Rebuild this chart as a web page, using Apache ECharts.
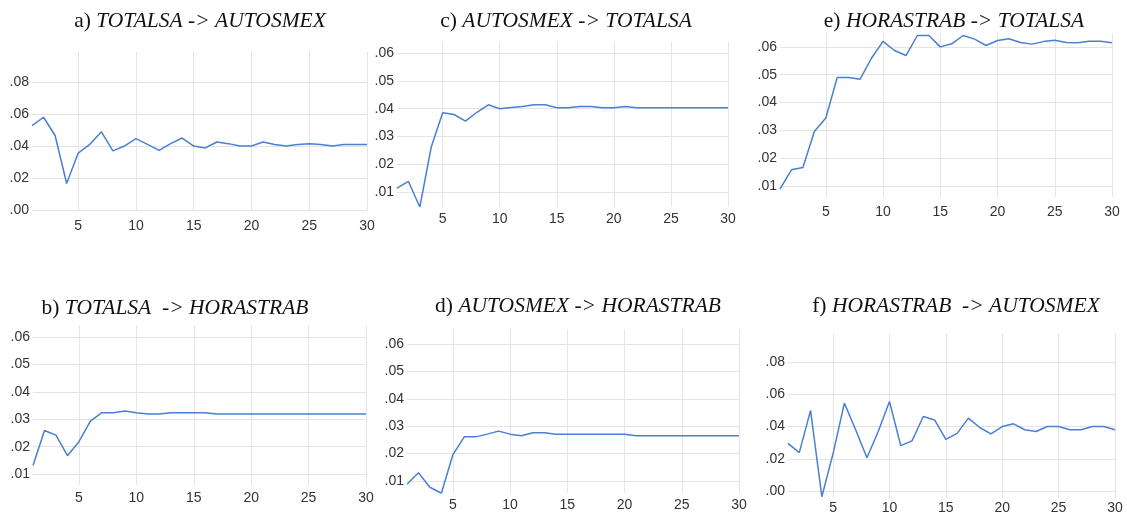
<!DOCTYPE html>
<html>
<head>
<meta charset="utf-8">
<script src="https://cdn.jsdelivr.net/npm/echarts@6/dist/echarts.min.js"></script>
<style>
  html, body { margin: 0; padding: 0; background: #fff; }
  #chart { width: 1127px; height: 517px; }
</style>
</head>
<body>
<div id="chart"></div>
<script>
// horizon (steps after the shock)
const steps = ['1','2','3','4','5','6','7','8','9','10','11','12','13','14','15',
  '16','17','18','19','20','21','22','23','24','25','26','27','28','29','30'];

// a) TOTALSA -> AUTOSMEX
const totToAuto = [0.0528, 0.058, 0.0466, 0.0166, 0.0356, 0.041, 0.049, 0.037, 0.040, 0.0446,
  0.041, 0.0373, 0.0415, 0.045, 0.040, 0.0388, 0.0425, 0.0415, 0.040, 0.040,
  0.0425, 0.041, 0.040, 0.041, 0.0415, 0.041, 0.040, 0.041, 0.041, 0.041];
// b) TOTALSA -> HORASTRAB
const totToHoras = [0.0131, 0.0259, 0.0242, 0.0167, 0.0218, 0.0293, 0.0324, 0.0324, 0.033, 0.0324,
  0.0319, 0.0319, 0.0324, 0.0324, 0.0324, 0.0324, 0.0319, 0.0319, 0.0319, 0.0319,
  0.0319, 0.0319, 0.0319, 0.0319, 0.0319, 0.0319, 0.0319, 0.0319, 0.0319, 0.0319];
// c) AUTOSMEX -> TOTALSA
const autoToTot = [0.0114, 0.0138, 0.0046, 0.0262, 0.0385, 0.0379, 0.0355, 0.0387, 0.0414, 0.040,
  0.0404, 0.0408, 0.0414, 0.0414, 0.0403, 0.0403, 0.0408, 0.0408, 0.0403, 0.0403,
  0.0408, 0.0403, 0.0403, 0.0403, 0.0403, 0.0403, 0.0403, 0.0403, 0.0403, 0.0403];
// d) AUTOSMEX -> HORASTRAB
const autoToHoras = [0.0088, 0.013, 0.0077, 0.0055, 0.0195, 0.0261, 0.0261, 0.0271, 0.0282, 0.0271,
  0.0265, 0.0276, 0.0276, 0.0271, 0.0271, 0.0271, 0.0271, 0.0271, 0.0271, 0.0271,
  0.0265, 0.0265, 0.0265, 0.0265, 0.0265, 0.0265, 0.0265, 0.0265, 0.0265, 0.0265];
// e) HORASTRAB -> TOTALSA
const horasToTot = [0.0088, 0.0158, 0.0166, 0.0296, 0.0344, 0.049, 0.049, 0.0484, 0.056, 0.062,
  0.0587, 0.0569, 0.0641, 0.0641, 0.060, 0.0611, 0.0641, 0.0628, 0.0605, 0.0623,
  0.0629, 0.0616, 0.061, 0.0619, 0.0624, 0.0616, 0.0615, 0.062, 0.062, 0.0615];
// f) HORASTRAB -> AUTOSMEX
const horasToAuto = [0.0296, 0.0238, 0.050, -0.0035, 0.0234, 0.0545, 0.038, 0.0207, 0.0369, 0.0555,
  0.0282, 0.0311, 0.0462, 0.0441, 0.0321, 0.0358, 0.0452, 0.0394, 0.0354, 0.040,
  0.0417, 0.038, 0.0369, 0.040, 0.040, 0.038, 0.038, 0.040, 0.040, 0.038];

const panelLetters = ['a)', 'c)', 'e)', 'b)', 'd)', 'f)'];
const panelNames = ['TOTALSA -> AUTOSMEX', 'AUTOSMEX -> TOTALSA', 'HORASTRAB -> TOTALSA',
  'TOTALSA  -> HORASTRAB', 'AUTOSMEX -> HORASTRAB', 'HORASTRAB  -> AUTOSMEX'];
const panelData = [totToAuto, autoToTot, horasToTot, totToHoras, autoToHoras, horasToAuto];

// layout per panel: plot box, y range, y step, title centre, x label margin
const panels = [
  { box: [32, 52, 335, 158],  yr: [0, 0.0988],      step: 0.02, t: [195, 18],  xm: 9 },
  { box: [397, 42, 331, 165], yr: [0.0046, 0.064],  step: 0.01, t: [561, 18],  xm: 5 },
  { box: [780, 33, 332, 164], yr: [0.006, 0.065],   step: 0.01, t: [949, 18],  xm: 8 },
  { box: [33, 325, 333, 160], yr: [0.006, 0.0644],  step: 0.01, t: [170, 305], xm: 6 },
  { box: [407, 329, 332, 164], yr: [0.0056, 0.0655], step: 0.01, t: [573, 303], xm: 5 },
  { box: [788, 333, 327, 165], yr: [-0.0043, 0.098], step: 0.02, t: [951, 303], xm: 3 }
];

const lineColor = '#4a7fd2';
const gridColor = '#e4e4e4';
const every5 = (i) => (i + 1) % 5 === 0;
const fmt = (v) => (v < 0 ? '-' : '') + Math.abs(v).toFixed(2).replace(/^0/, '');
const isNice = (v, s) => Math.abs(v / s - Math.round(v / s)) < 1e-6;

const myChart = echarts.init(document.getElementById('chart'), null, { renderer: 'canvas' });

const option = {
  animation: false,
  backgroundColor: '#fff',
  title: [],
  grid: [],
  xAxis: [],
  yAxis: [],
  series: []
};

panels.forEach((p, k) => {
  option.title.push({
    text: '{r|' + panelLetters[k] + ' }{i|' + panelNames[k] + '}',
    left: p.t[0],
    top: p.t[1] - 13,
    textAlign: 'center',
    textStyle: {
      fontWeight: 'normal',
      rich: {
        r: { fontFamily: 'Liberation Serif', fontSize: 21.5, fontWeight: 'normal', color: '#111' },
        i: { fontFamily: 'Liberation Serif', fontSize: 21.5, fontWeight: 'normal', fontStyle: 'italic', color: '#111' }
      }
    }
  });
  option.grid.push({
    left: p.box[0], top: p.box[1], width: p.box[2], height: p.box[3],
    containLabel: false
  });
  option.xAxis.push({
    type: 'category',
    gridIndex: k,
    data: steps,
    boundaryGap: false,
    axisLine: { show: false },
    axisTick: { show: false },
    axisLabel: {
      interval: every5,
      margin: p.xm,
      color: '#333',
      fontSize: 14,
      fontFamily: 'Liberation Sans'
    },
    splitLine: { show: true, interval: every5, lineStyle: { color: gridColor, width: 1 } }
  });
  option.yAxis.push({
    type: 'value',
    gridIndex: k,
    min: p.yr[0],
    max: p.yr[1],
    minInterval: p.step,
    maxInterval: p.step,
    axisLine: { show: false },
    axisTick: { show: false },
    axisLabel: {
      margin: 3,
      color: '#333',
      fontSize: 14,
      fontFamily: 'Liberation Sans',
      formatter: fmt,
      showMinLabel: isNice(p.yr[0], p.step),
      showMaxLabel: isNice(p.yr[1], p.step)
    },
    splitLine: {
      show: true,
      showMinLine: isNice(p.yr[0], p.step),
      showMaxLine: false,
      lineStyle: { color: gridColor, width: 1 }
    }
  });
  option.series.push({
    type: 'line',
    xAxisIndex: k,
    yAxisIndex: k,
    data: panelData[k],
    showSymbol: false,
    symbol: 'none',
    lineStyle: { color: lineColor, width: 1.5 },
    itemStyle: { color: lineColor }
  });
});

myChart.setOption(option);
</script>
</body>
</html>
